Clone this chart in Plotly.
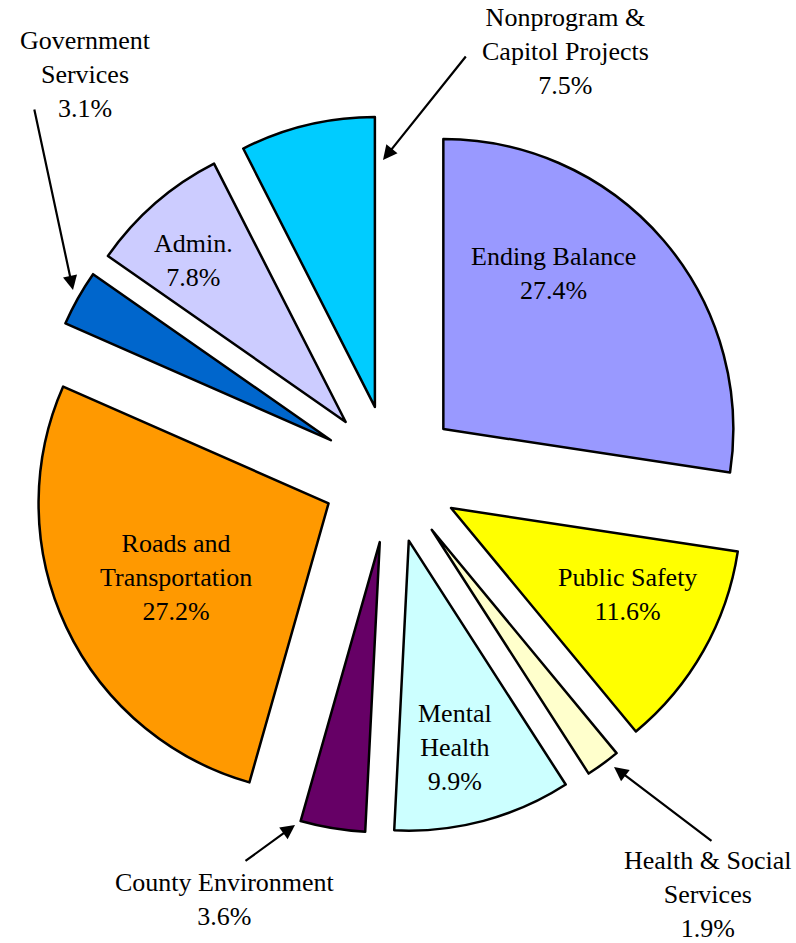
import plotly.graph_objects as go

# ---- data ----
categories = ["Ending Balance", "Public Safety", "Health & Social Services", "Mental Health",
              "County Environment", "Roads and Transportation", "Government Services",
              "Admin.", "Nonprogram & Capitol Projects"]
values = [27.4, 11.6, 1.9, 9.9, 3.6, 27.2, 3.1, 7.8, 7.5]
label_lines = ["Ending Balance", "Public Safety", "Health & Social<br>Services", "Mental<br>Health",
               "County Environment", "Roads and<br>Transportation", "Government<br>Services",
               "Admin.", "Nonprogram &<br>Capitol Projects"]

# ---- styles ----
colors = ["#9999FF", "#FFFF00", "#FFFFCC", "#CCFFFF", "#660066",
          "#FF9900", "#0066CC", "#CCCCFF", "#00CCFF"]
W, H = 796, 943
FONT = dict(family="Times New Roman", size=26, color="black")

fig = go.Figure(go.Pie(
    labels=categories, values=values, sort=False, direction="clockwise", rotation=0,
    pull=[0.238] * len(values),
    marker=dict(colors=colors, line=dict(color="black", width=2.5)),
    textinfo="none", hoverinfo="label+percent", showlegend=False,
    domain=dict(x=[32 / W, 750 / W], y=[1 - 833 / H, 1 - 115 / H]),
))

# label placement (pixel centres) and optional arrow (tail -> tip)
label_pos = {
    "Ending Balance": (553, 274, None),
    "Public Safety": (627, 594, None),
    "Health & Social Services": (708, 894, ((713, 842), (614, 767))),
    "Mental Health": (455, 747, None),
    "County Environment": (225, 899, ((244, 862), (295, 825))),
    "Roads and Transportation": (176, 577, None),
    "Government Services": (85, 74, ((34, 108), (73, 290))),
    "Admin.": (193, 260, None),
    "Nonprogram & Capitol Projects": (565, 51, ((467, 55), (383, 160))),
}

annotations = []
for cat, txt, v in zip(categories, label_lines, values):
    px, py, arrow = label_pos[cat]
    annotations.append(dict(
        x=px / W, y=1 - py / H, xref="paper", yref="paper",
        text=f"{txt}<br>{v:.1f}%", showarrow=False, font=FONT,
        xanchor="center", yanchor="middle", align="center"))
    if arrow:
        (tx, ty), (hx, hy) = arrow
        annotations.append(dict(
            x=hx / W, y=1 - hy / H, xref="paper", yref="paper",
            ax=tx - hx, ay=ty - hy, axref="pixel", ayref="pixel",
            text="", showarrow=True, arrowhead=2, arrowsize=1.3,
            arrowwidth=2.2, arrowcolor="black", standoff=0))

fig.update_layout(
    width=W, height=H, margin=dict(l=0, r=0, t=0, b=0),
    paper_bgcolor="white", plot_bgcolor="white",
    annotations=annotations,
)

fig.write_html("out.html", config={"displayModeBar": False},
               post_script="document.body.style.margin='0';document.body.style.overflow='hidden';")
